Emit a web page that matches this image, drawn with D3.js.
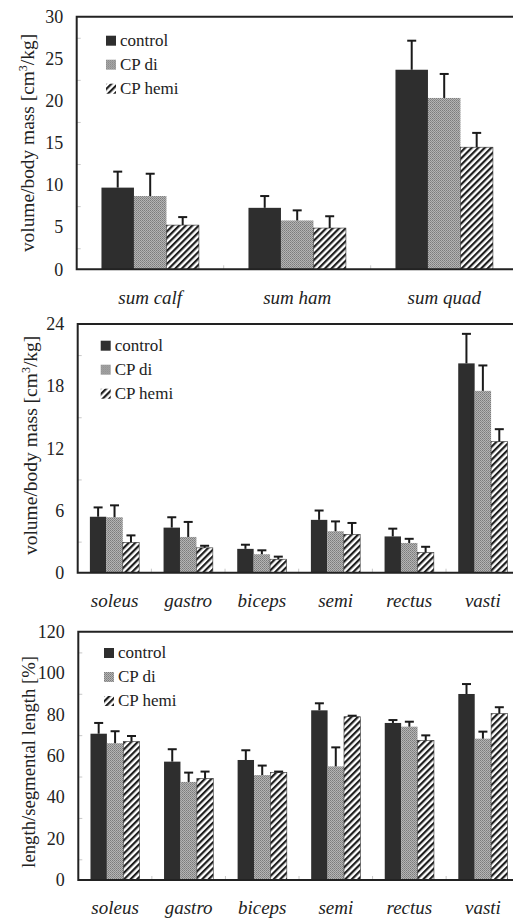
<!DOCTYPE html>
<html>
<head>
<meta charset="utf-8">
<script src="https://cdn.jsdelivr.net/npm/d3@7"></script>
<style>
  body { margin: 0; background: #fff; }
</style>
</head>
<body>
<div id="chart"></div>
<script>
// data (mean and SD of each group)
const series = ["control", "CP di", "CP hemi"];

const sumCats = ["sum calf", "sum ham", "sum quad"];
const sumControl = [9.7, 7.3, 23.7];
const sumControlSd = [1.9, 1.4, 3.45];
const sumDi = [8.7, 5.8, 20.35];
const sumDiSd = [2.65, 1.2, 2.85];
const sumHemi = [5.25, 4.9, 14.5];
const sumHemiSd = [0.95, 1.4, 1.7];

const muscles = ["soleus", "gastro", "biceps", "semi", "rectus", "vasti"];
const volControl = [5.4, 4.35, 2.3, 5.1, 3.5, 20.2];
const volControlSd = [0.9, 1.0, 0.4, 0.9, 0.75, 2.85];
const volDi = [5.35, 3.45, 1.78, 4.0, 2.87, 17.55];
const volDiSd = [1.15, 1.45, 0.38, 0.95, 0.4, 2.45];
const volHemi = [2.93, 2.4, 1.3, 3.7, 1.95, 12.65];
const volHemiSd = [0.67, 0.2, 0.25, 1.1, 0.55, 1.2];

const lenControl = [70.7, 57.2, 58, 82, 75.9, 89.9];
const lenControlSd = [5.2, 6.0, 4.7, 3.4, 1.4, 4.8];
const lenDi = [66.1, 47.4, 50.7, 54.9, 74.1, 68.3];
const lenDiSd = [5.8, 4.5, 4.6, 9.2, 2.4, 3.4];
const lenHemi = [66.9, 49.1, 52, 78.9, 67.5, 80.4];
const lenHemiSd = [2.7, 3.3, 0.4, 0.5, 2.4, 3.1];

const width = 513, height = 923;
const serif = "Liberation Serif";

const svg = d3.select("#chart").append("svg")
  .attr("width", width)
  .attr("height", height)
  .attr("font-family", serif);

// fills: solid dark, fine grey dots, diagonal hatch
const defs = svg.append("defs");
const dots = defs.append("pattern")
  .attr("id", "dots").attr("patternUnits", "userSpaceOnUse")
  .attr("width", 2).attr("height", 2);
dots.append("rect").attr("width", 2).attr("height", 2).attr("fill", "#b4b4b4");
dots.append("rect").attr("width", 1).attr("height", 1).attr("fill", "#7c7c7c");
dots.append("rect").attr("x", 1).attr("y", 1).attr("width", 1).attr("height", 1).attr("fill", "#8c8c8c");

const hatch = defs.append("pattern")
  .attr("id", "hatch").attr("patternUnits", "userSpaceOnUse")
  .attr("width", 4.6).attr("height", 4.6)
  .attr("patternTransform", "rotate(45)");
hatch.append("rect").attr("width", 4.6).attr("height", 4.6).attr("fill", "#fff");
hatch.append("rect").attr("width", 2.2).attr("height", 4.6).attr("fill", "#1e1e1e");

const fills = ["#2e2e2e", "url(#dots)", "url(#hatch)"];

// one panel of grouped bars
function panel(opt) {
  const g = svg.append("g");
  const y = d3.scaleLinear().domain([0, opt.ymax]).range([opt.bottom, opt.top]);
  const x = d3.scaleBand().domain(opt.cats).range([opt.left, opt.right])
    .paddingInner(opt.pad).paddingOuter(opt.pad / 2);
  const xs = d3.scaleBand().domain(series).range([0, x.bandwidth()]);

  // minor ticks inside the frame
  g.append("g")
    .attr("transform", `translate(${opt.left},0)`)
    .call(d3.axisRight(y).tickValues(opt.minor).tickSize(4).tickFormat(""))
    .call(a => a.select(".domain").remove())
    .selectAll("line").attr("stroke", "#c8c8c8");

  // category separators on the base line
  const seps = opt.cats.slice(1).map(c => x(c) - x.step() * opt.pad / 2);
  g.selectAll(".sep").data(seps).enter().append("line")
    .attr("x1", d => d).attr("x2", d => d)
    .attr("y1", opt.bottom).attr("y2", opt.bottom - 4)
    .attr("stroke", "#c8c8c8");

  // y tick labels
  g.append("g")
    .attr("transform", `translate(${opt.left},0)`)
    .call(d3.axisLeft(y).tickValues(d3.range(0, opt.ymax + 0.01, opt.step)).tickSize(0).tickPadding(13.5))
    .attr("font-family", serif)
    .call(a => a.select(".domain").remove())
    .selectAll("text")
      .attr("font-size", 18)
      .attr("fill", "#222");

  // x labels
  g.append("g")
    .attr("transform", `translate(0,${opt.bottom})`)
    .call(d3.axisBottom(x).tickSize(0).tickPadding(21))
    .attr("font-family", serif)
    .call(a => a.select(".domain").remove())
    .selectAll("text")
      .attr("font-style", "italic")
      .attr("font-size", 19)
      .attr("fill", "#222");

  // bars
  const rows = [];
  opt.cats.forEach((c, i) => {
    series.forEach((s, k) => {
      rows.push({cat: c, s: s, k: k, v: opt.values[k][i], sd: opt.sds[k][i]});
    });
  });

  g.selectAll(".bar").data(rows).enter().append("rect")
    .attr("x", d => x(d.cat) + xs(d.s))
    .attr("y", d => y(d.v))
    .attr("width", xs.bandwidth())
    .attr("height", d => opt.bottom - y(d.v))
    .attr("fill", d => fills[d.k])
    .attr("stroke", d => d.k == 2 ? "#333" : "none")
    .attr("stroke-width", 0.6);

  // error bars (upper half only)
  const eb = g.selectAll(".err").data(rows).enter().append("g")
    .attr("stroke", "#1a1a1a").attr("stroke-width", 2);
  eb.append("line")
    .attr("x1", d => x(d.cat) + xs(d.s) + xs.bandwidth() / 2)
    .attr("x2", d => x(d.cat) + xs(d.s) + xs.bandwidth() / 2)
    .attr("y1", d => y(d.v))
    .attr("y2", d => y(d.v + d.sd));
  eb.append("line")
    .attr("x1", d => x(d.cat) + xs(d.s) + xs.bandwidth() / 2 - 4.5)
    .attr("x2", d => x(d.cat) + xs(d.s) + xs.bandwidth() / 2 + 4.5)
    .attr("y1", d => y(d.v + d.sd))
    .attr("y2", d => y(d.v + d.sd));

  // frame: left, top and base line (right side runs off the page)
  g.append("path")
    .attr("d", `M${opt.right + 10},${opt.top}H${opt.left}V${opt.bottom}H${opt.right + 10}`)
    .attr("fill", "none").attr("stroke", "#222").attr("stroke-width", 2);

  // legend
  const lg = g.append("g").attr("transform", `translate(${opt.legX},${opt.legY})`);
  series.forEach((s, k) => {
    lg.append("rect")
      .attr("x", 0).attr("y", k * 24)
      .attr("width", 10).attr("height", 10)
      .attr("fill", fills[k]);
    lg.append("text")
      .attr("x", 14).attr("y", k * 24 + 10)
      .attr("font-size", 17).attr("fill", "#222")
      .text(s);
  });

  // y title
  const t = g.append("text")
    .attr("transform", `translate(${opt.titleX},${(opt.top + opt.bottom) / 2 + opt.titleDy}) rotate(-90)`)
    .attr("text-anchor", "middle")
    .attr("font-size", opt.titleSize).attr("fill", "#222");
  opt.title(t);
}

const volTitle = t => {
  t.append("tspan").text("volume/body mass [cm");
  t.append("tspan").attr("font-size", 12).attr("dy", -7).text("3");
  t.append("tspan").attr("dy", 7).text("/kg]");
};

panel({
  cats: sumCats, values: [sumControl, sumDi, sumHemi], sds: [sumControlSd, sumDiSd, sumHemiSd],
  left: 76.7, right: 517.7, top: 16.7, bottom: 269.3, pad: 0.337,
  ymax: 30, step: 5, minor: [2.5, 7.5, 12.5, 17.5, 22.5, 27.5],
  legX: 106, legY: 35.7, titleX: 34, titleDy: 0, titleSize: 19.4, title: volTitle
});

panel({
  cats: muscles, values: [volControl, volDi, volHemi], sds: [volControlSd, volDiSd, volHemiSd],
  left: 77.7, right: 519.7, top: 324, bottom: 572.7, pad: 0.331,
  ymax: 24, step: 6, minor: [3, 9, 15, 21],
  legX: 100.7, legY: 340.7, titleX: 37, titleDy: -3, titleSize: 19.5, title: volTitle
});

panel({
  cats: muscles, values: [lenControl, lenDi, lenHemi], sds: [lenControlSd, lenDiSd, lenHemiSd],
  left: 78.3, right: 519.7, top: 631.7, bottom: 880, pad: 0.331,
  ymax: 120, step: 20, minor: [10, 30, 50, 70, 90, 110],
  legX: 104, legY: 648, titleX: 35, titleDy: 6, titleSize: 18.7,
  title: t => t.text("length/segmental length [%]")
});
</script>
</body>
</html>
